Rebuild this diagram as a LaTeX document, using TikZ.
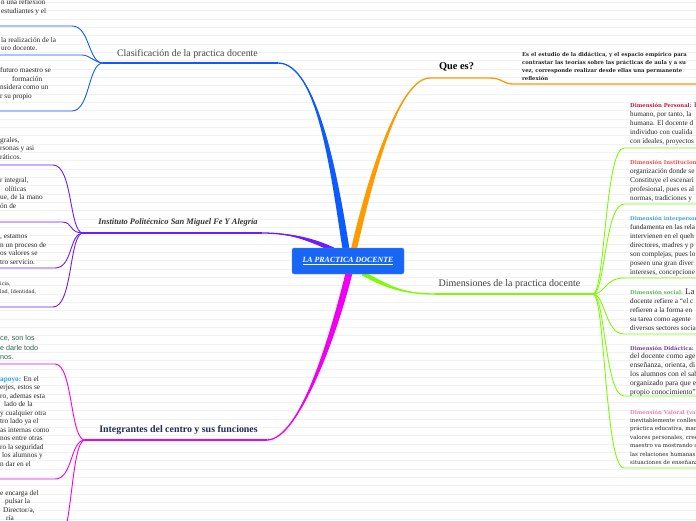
\documentclass[tikz,border=0pt]{standalone}
\usepackage{fontspec}
\setmainfont{Liberation Serif}
\setsansfont{Liberation Sans}
\newfontfamily\dvs{DejaVu Serif}
\usetikzlibrary{calc,positioning}
\definecolor{hubc}{HTML}{1766F5}
\definecolor{bluec}{HTML}{0D5BFF}
\definecolor{orangec}{HTML}{FF9A00}
\definecolor{purplec}{HTML}{6A1CFF}
\definecolor{magc}{HTML}{F000F0}
\definecolor{greenc}{HTML}{7CFC00}
\definecolor{navyc}{HTML}{1F2B5C}
\definecolor{tealc}{HTML}{2B6352}
\definecolor{ruled}{HTML}{F1F1F1}
\definecolor{crimc}{HTML}{C8163E}
\definecolor{redc}{HTML}{F0504A}
\definecolor{skyc}{HTML}{3BA7E8}
\definecolor{leafc}{HTML}{5DB85C}
\definecolor{violc}{HTML}{7A3E9D}
\definecolor{pinkc}{HTML}{F47FB0}
\definecolor{apoyc}{HTML}{2AA6E0}
\tikzset{
  lbl/.style={inner sep=0pt,anchor=base},
  body/.style={font=\fontsize{7.3}{8.5}\selectfont,align=left,inner sep=0pt,anchor=base west,text=black!85},
  rbody/.style={font=\fontsize{7.2}{9}\selectfont,align=left,inner sep=0pt,anchor=base west,text=black!85},
  sub/.style={line width=0.9pt},
  hub/.style={fill=hubc,draw=hubc!70!white,rounded corners=2pt,minimum width=112pt,minimum height=26pt,inner sep=0pt,
    text=white,font=\bfseries\itshape\fontsize{7.9}{9}\selectfont}
}
% tapered main branch: colour, far end, control 1, control 2, near end, half width (x,y)
\newcommand{\taper}[7]{\fill[#1] (#2) .. controls (#3) and ($(#4)+(#6,#7)$) .. ($(#5)+(#6,#7)$) -- ($(#5)-(#6,#7)$) .. controls ($(#4)-(#6,#7)$) and (#3) .. (#2) -- cycle;
  \draw[#1,line width=1.3pt] (#2) .. controls (#3) and (#4) .. (#5);}
\newcommand{\ttl}[2]{{\dvs\fontsize{5.3}{9}\selectfont\bfseries\color{#1}#2}}

\begin{document}
\begin{tikzpicture}[x=1pt,y=-1pt]
\useasboundingbox (0,0) rectangle (696,520);
\clip (0,0) rectangle (696,520);
\fill[white] (0,0) rectangle (696,520);
\foreach \k in {0,...,62} \draw[ruled,line width=0.6pt] (0,2.35+8.333*\k) -- (696,2.35+8.333*\k);

% junctions
\coordinate (clasend) at (278,63);
\coordinate (clasj) at (103,63);
\coordinate (queend) at (430,78);
\coordinate (quex) at (696,84);
\coordinate (instend) at (262,233);
\coordinate (instj) at (83,233);
\coordinate (integend) at (267,440);
\coordinate (integj) at (85,440);
\coordinate (dimsend) at (435,294);
\coordinate (dimsj) at (593,294);

% main branches
\taper{bluec}{clasend}{318,63}{335,180}{346,249}{3.5}{0}
\taper{orangec}{queend}{400,78}{372,170}{354,249}{3}{0}
\taper{purplec}{instend}{292,233}{312,240}{334,250}{0}{2.5}
\taper{magc}{integend}{300,440}{335,330}{349,273}{3.5}{0}
\taper{greenc}{dimsend}{400,294}{385,285}{362,273}{0}{2.5}
\draw[bluec,line width=1.3pt] (clasj) -- (clasend);
\draw[orangec,line width=1.3pt] (queend) -- (490,78) .. controls (502,78) and (503,84) .. (513,84) -- (quex);
\draw[purplec,line width=1.3pt] (instj) -- (instend);
\draw[magc,line width=1.3pt] (integj) -- (integend);
\draw[greenc,line width=1.3pt] (dimsend) -- (dimsj);

% sub branches
\foreach \yy/\xx/\cc in {26/72/88,55/82/95,111/72/88}{
  \coordinate (cl-\yy) at (0,\yy);
  \draw[bluec,sub] (clasj) .. controls (\cc,63) and (90,\yy) .. (\xx,\yy) -- (cl-\yy);}
\foreach \yy/\xx in {165/53,222/62,268/55,307/53}{
  \coordinate (in-\yy) at (0,\yy);
  \draw[purplec,sub] (instj) .. controls (69,233) and (73,\yy) .. (\xx,\yy) -- (in-\yy);}
\foreach \yy in {364,479,548}{
  \coordinate (ig-\yy) at (0,\yy);
  \draw[magc,sub] (integj) .. controls (70,440) and (73,\yy) .. (55,\yy) -- (ig-\yy);}
\foreach \yy in {148,204,278,334,396,468}{
  \coordinate (dm-\yy) at (696,\yy);
  \draw[greenc,sub] (dimsj) .. controls (605,294) and (605,\yy) .. (624,\yy) -- (dm-\yy);}

% hub and branch labels
\node[hub] (lpd) at (348,261) {\underline{LA PRACTICA DOCENTE}};
\node[lbl,font=\fontsize{9.9}{11}\selectfont,text=black!72] (clas) at (187.5,56.5) {Clasificación de la practica docente};
\node[lbl,font=\bfseries\fontsize{10.4}{12}\selectfont] (quees) at (456.5,69.5) {Que es?};
\node[lbl,font=\bfseries\itshape\fontsize{8.4}{10}\selectfont,text=black!80] (inst) at (178,224.5) {Instituto Politécnico San Miguel Fe Y Alegría};
\node[lbl,font=\bfseries\fontsize{9.9}{11}\selectfont,text=navyc] (integ) at (178.5,432.5) {Integrantes del centro y sus funciones};
\node[lbl,font=\fontsize{10}{11}\selectfont,text=black!75] (dims) at (509.5,286.5) {Dimensiones de la practica docente};

% texts (placed at the baseline of their last line)
\node[body,font=\dvs\bfseries\fontsize{5.3}{8}\selectfont] (qtx) at (522,80) {Es el estudio de la didáctica, y el espacio empírico para\\contrastar las teorías sobre las prácticas de aula y a su\\vez, corresponde realizar desde ellas una permanente\\reflexión};

\node[body] (clt1) at (1,13) {n una reflexion\\estudiantes y el};
\node[body] (clt2) at (1,50.5) {la realización de la\\uro docente.};
\node[body] (clt3) at (0,98) {futuro maestro se\\\hspace*{12pt}formación\\nsidera como un\\r su propio};

\node[body] (int1) at (0,159) {grales,\\rsonas y asi\\ráticos.};
\node[body] (int2) at (0,208) {r integral,\\\hspace*{5pt}olíticas\\ue, de la mano\\ón de};
\node[body] (int3) at (0,264) {, estamos\\n un proceso de\\os valores se\\tro servicio.};
\node[body,font=\dvs\fontsize{4.9}{8.5}\selectfont] (int4) at (0,293.5) {icia,\\lad, Identidad,};

\node[body,font=\sffamily\fontsize{7.2}{9.5}\selectfont,text=tealc] (ing1) at (0,359.5) {ce, son los\\e darle todo\\nos.};
\node[body] (ing2) at (0,466) {{\bfseries\color{apoyc}apoyo:} En el\\erjes, estos se\\ro, ademas esta\\\hspace*{4pt}lado de la\\y cualquier otra\\tro lado ya el\\as internas como\\nos entre otras\\ro la seguridad\\\hspace*{2pt}los alumnos y\\n dar en el};
\node[body] (ing3) at (0,520.5) {e encarga del\\\hspace*{5pt}pulsar la\\\hspace*{3pt}Director/a,\\\hspace*{6pt}ría};

\node[rbody] (dm1) at (630,143.5) {\ttl{crimc}{Dimensión Personal:} E\\humano, por tanto, la\\humana. El docente d\\individuo con cualida\\con ideales, proyectos};
\node[rbody] (dm2) at (630,200) {\ttl{redc}{Dimensión Institucional}\\organización donde se\\Constituye el escenari\\profesional, pues es al\\normas, tradiciones y};
\node[rbody] (dm3) at (630,274) {\ttl{skyc}{Dimensión interpersonal}\\fundamenta en las rela\\intervienen en el queh\\directores, madres y p\\son complejas, pues lo\\poseen una gran diver\\intereses, concepcione};
\node[rbody] (dm4) at (630,330) {\ttl{leafc}{Dimensión social:} {\fontsize{8.6}{9}\selectfont La d}\\docente refiere a “el c\\refieren a la forma en\\su tarea como agente\\diversos sectores socia};
\node[rbody,font=\fontsize{7.5}{8.8}\selectfont] (dm5) at (630,394) {\ttl{violc}{Dimensión Didáctica:}\\del docente como age\\enseñanza, orienta, di\\los alumnos con el sab\\organizado para que e\\propio conocimiento”};
\node[rbody,font=\dvs\fontsize{5.5}{8.4}\selectfont] (dm6) at (630,464.5) {\ttl{pinkc}{Dimensión Valoral (va}\\inevitablemente conllev\\práctica educativa, man\\valores personales, cree\\maestro va mostrando a\\las relaciones humanas\\situaciones de enseñanz};
\end{tikzpicture}
\end{document}
